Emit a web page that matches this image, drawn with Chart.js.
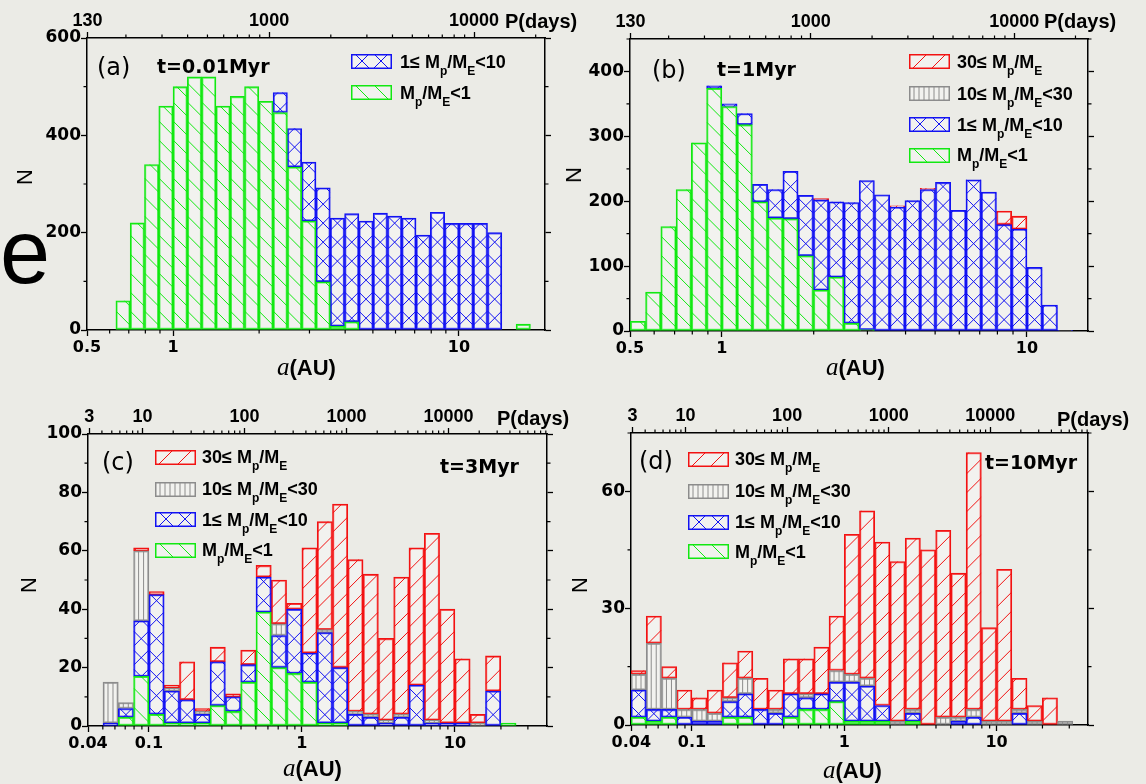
<!DOCTYPE html>
<html>
<head>
<meta charset="utf-8">
<script src="https://cdn.jsdelivr.net/npm/chart.js@4.4.1/dist/chart.umd.min.js"></script>
<style>
  body { margin: 0; width: 1146px; height: 784px; background: #ebebe6; position: relative; overflow: hidden; }
  canvas { position: absolute; }
  .txt { position: absolute; white-space: nowrap; color: #000; line-height: 1; transform: translateY(-50%); }
  .tag { font: 24px 'DejaVu Sans', sans-serif; }
  .time { font: bold 19px 'DejaVu Sans', sans-serif; }
  .leg { font: bold 18px 'Liberation Sans', Arial, sans-serif; }
  .leg sub { font-size: 12px; vertical-align: baseline; position: relative; top: 7px; }
  .per { font: bold 20px 'Liberation Sans', Arial, sans-serif; }
  .xt { font: bold 22px 'Liberation Sans', Arial, sans-serif; }
  .xt i { font: italic 25px 'Liberation Serif', serif; }
  .yt { font: 22px 'Liberation Sans', Arial, sans-serif; transform: translate(-50%, -50%) rotate(-90deg); }
  .big { position: absolute; font: 90px 'Liberation Sans', Arial, sans-serif; line-height: 90px; color: #000; }
</style>
</head>
<body>
<canvas id="pa" width="573" height="392" style="left:0;top:0"></canvas>
<canvas id="pb" width="573" height="392" style="left:573px;top:0"></canvas>
<canvas id="pc" width="573" height="392" style="left:0;top:392px"></canvas>
<canvas id="pd" width="573" height="392" style="left:573px;top:392px"></canvas>

<div class="big" style="left:0;top:207px">e</div>

<!-- (a) -->
<div class="txt tag" style="left:97px;top:67px">(a)</div>
<div class="txt time" style="left:157px;top:66px">t=0.01Myr</div>
<div class="txt leg" style="left:400px;top:62px">1≤ M<sub>p</sub>/M<sub>E</sub>&lt;10</div>
<div class="txt leg" style="left:400px;top:93px">M<sub>p</sub>/M<sub>E</sub>&lt;1</div>
<div class="txt per" style="left:505px;top:21px">P(days)</div>
<div class="txt xt" style="left:277px;top:367px"><i>a</i>(AU)</div>
<div class="txt yt" style="left:25px;top:177px">N</div>

<!-- (b) -->
<div class="txt tag" style="left:652px;top:70px">(b)</div>
<div class="txt time" style="left:717px;top:69px">t=1Myr</div>
<div class="txt leg" style="left:957px;top:62px">30≤ M<sub>p</sub>/M<sub>E</sub></div>
<div class="txt leg" style="left:957px;top:94px">10≤ M<sub>p</sub>/M<sub>E</sub>&lt;30</div>
<div class="txt leg" style="left:957px;top:125px">1≤ M<sub>p</sub>/M<sub>E</sub>&lt;10</div>
<div class="txt leg" style="left:957px;top:155px">M<sub>p</sub>/M<sub>E</sub>&lt;1</div>
<div class="txt per" style="left:1044px;top:21px">P(days)</div>
<div class="txt xt" style="left:826px;top:367px"><i>a</i>(AU)</div>
<div class="txt yt" style="left:574px;top:175px">N</div>

<!-- (c) -->
<div class="txt tag" style="left:102px;top:462px">(c)</div>
<div class="txt time" style="left:440px;top:466px">t=3Myr</div>
<div class="txt leg" style="left:202px;top:457px">30≤ M<sub>p</sub>/M<sub>E</sub></div>
<div class="txt leg" style="left:202px;top:489px">10≤ M<sub>p</sub>/M<sub>E</sub>&lt;30</div>
<div class="txt leg" style="left:202px;top:520px">1≤ M<sub>p</sub>/M<sub>E</sub>&lt;10</div>
<div class="txt leg" style="left:202px;top:550px">M<sub>p</sub>/M<sub>E</sub>&lt;1</div>
<div class="txt per" style="left:497px;top:418px">P(days)</div>
<div class="txt xt" style="left:283px;top:768px"><i>a</i>(AU)</div>
<div class="txt yt" style="left:29px;top:585px">N</div>

<!-- (d) -->
<div class="txt tag" style="left:639px;top:461px">(d)</div>
<div class="txt time" style="left:985px;top:462px">t=10Myr</div>
<div class="txt leg" style="left:735px;top:459px">30≤ M<sub>p</sub>/M<sub>E</sub></div>
<div class="txt leg" style="left:735px;top:491px">10≤ M<sub>p</sub>/M<sub>E</sub>&lt;30</div>
<div class="txt leg" style="left:735px;top:522px">1≤ M<sub>p</sub>/M<sub>E</sub>&lt;10</div>
<div class="txt leg" style="left:735px;top:552px">M<sub>p</sub>/M<sub>E</sub>&lt;1</div>
<div class="txt per" style="left:1057px;top:419px">P(days)</div>
<div class="txt xt" style="left:823px;top:770px"><i>a</i>(AU)</div>
<div class="txt yt" style="left:580px;top:585px">N</div>

<script>
// ---------- data: counts per bin of log10(a), stacked small -> mid -> giant -> large ----------

// (a) t=0.01Myr, bins 0.05 dex, first bin starts at log a = -0.2
const aBinStart = -0.2;
const aBinWidth = 0.05;
const aSmall = [60, 220, 340, 460, 500, 520, 520, 460, 480, 500, 470, 447, 335, 224, 99, 8, 17, 0, 0, 0, 0, 0, 0, 0, 0, 0, 0, 0, 12];
const aMid   = [0, 0, 0, 0, 0, 0, 0, 0, 0, 0, 0, 41, 79, 121, 193, 222, 222, 224, 240, 234, 230, 195, 242, 219, 219, 219, 200, 0, 0];

// (b) t=1Myr, bins 0.05 dex, first bin starts at log a = -0.3
const bBinStart = -0.3;
const bBinWidth = 0.05;
const bSmall = [15, 60, 161, 218, 290, 374, 346, 318, 199, 174, 173, 116, 63, 83, 12, 2, 0, 0, 0, 0, 0, 0, 0, 0, 0, 0, 0, 0, 0];
const bMid   = [0, 0, 0, 0, 0, 4, 4, 17, 27, 44, 73, 93, 139, 116, 186, 230, 210, 191, 201, 218, 229, 186, 233, 214, 164, 157, 98, 40, 1];
const bLarge = [0, 0, 0, 0, 0, 0, 0, 0, 0, 0, 0, 0, 2, 0, 0, 0, 0, 2, 0, 2, 0, 0, 0, 0, 21, 20, 0, 0, 0];

// (c) t=3Myr, bins 0.1 dex, first bin starts at log a = -1.3
const cBinStart = -1.3;
const cBinWidth = 0.1;
const cSmall = [0, 3, 17, 4, 1, 1, 1, 7, 5, 15, 39, 20, 18, 15, 1, 1, 0, 0, 0, 0, 0, 0, 0, 0, 0, 0, 1];
const cMid   = [1, 3, 19, 41, 11, 8, 3, 15, 5, 6, 12, 11, 22, 10, 31, 19, 4, 3, 1, 3, 14, 1, 1, 1, 0, 12, 0];
const cGiant = [14, 2, 24, 0, 1, 0, 1, 0, 0, 0, 0, 4, 0, 0, 1, 0, 1, 1, 1, 1, 0, 1, 0, 0, 1, 0, 0];
const cLarge = [0, 0, 1, 1, 1, 13, 1, 5, 1, 5, 4, 15, 2, 36, 37, 56, 52, 48, 28, 47, 47, 64, 39, 22, 3, 12, 0];

// (d) t=10Myr, bins 0.1 dex, first bin starts at log a = -1.4
const dBinStart = -1.4;
const dBinWidth = 0.1;
const dSmall = [2, 1, 2, 0, 0, 0, 2, 2, 0, 0, 2, 4, 4, 6, 1, 1, 1, 0, 1, 0, 0, 0, 0, 0, 0, 0, 0, 0, 0];
const dMid   = [7, 3, 2, 2, 1, 1, 4, 6, 4, 3, 6, 3, 4, 5, 10, 9, 4, 0, 2, 0, 0, 1, 2, 0, 0, 3, 0, 0, 0];
const dGiant = [4, 17, 8, 2, 3, 2, 1, 4, 0, 1, 0, 1, 0, 3, 2, 2, 0, 1, 1, 0, 2, 1, 2, 1, 1, 1, 1, 0, 1];
const dLarge = [1, 7, 3, 5, 3, 6, 9, 7, 8, 5, 9, 9, 12, 14, 36, 43, 42, 41, 44, 45, 48, 37, 66, 24, 39, 8, 4, 7, 0];

// tick labels
const aXTicks = ['0.5', '1', '10'];
const bXTicks = ['0.5', '1', '10'];
const cXTicks = ['0.04', '0.1', '1', '10'];
const dXTicks = ['0.04', '0.1', '1', '10'];
const abPTicks = ['130', '1000', '10000'];
const cdPTicks = ['3', '10', '100', '1000', '10000'];

// ---------- styles ----------
const STYLE = {
    small: { color: '#12e812', hatch: 'back' },
    mid:   { color: '#1212f2', hatch: 'cross' },
    giant: { color: '#8c8c8c', hatch: 'vert' },
    large: { color: '#f21212', hatch: 'fwd' }
};
const BAR_FILL = 'rgba(255,255,255,0.35)';
const HATCH_STEP = 19;
const log10 = Math.log10;
const keplerLogA = P => (2 / 3) * log10(P / 365.25);

// --- Helpers ---

function traceHatch(ctx, kind, l, r, t, b, y0) {
    const w = r - l;
    if (kind === 'vert') {
        for (let x = l + 5; x < r - 1; x += 5) {
            ctx.moveTo(x, t);
            ctx.lineTo(x, b);
        }
        return;
    }
    if (kind === 'back' || kind === 'cross') {
        const k0 = Math.floor((t - w - y0) / HATCH_STEP) - 1;
        const k1 = Math.ceil((b - y0) / HATCH_STEP) + 1;
        for (let k = k0; k <= k1; k++) {
            const c = y0 + k * HATCH_STEP;
            ctx.moveTo(l, c);
            ctx.lineTo(r, c + w);
        }
    }
    if (kind === 'fwd' || kind === 'cross') {
        const k0 = Math.floor((t - y0 - w) / HATCH_STEP) - 1;
        const k1 = Math.ceil((b + w - y0) / HATCH_STEP) + 1;
        for (let k = k0; k <= k1; k++) {
            const c = y0 + w + k * HATCH_STEP;
            ctx.moveTo(l, c);
            ctx.lineTo(r, c - w);
        }
    }
}

function logMinors(min, max, skip) {
    const out = [];
    for (let k = -3; k <= 5; k++) {
        for (let m = 2; m <= 9; m++) {
            const v = log10(m * Math.pow(10, k));
            if (v > min + 1e-6 && v < max - 1e-6 && !skip.some(s => Math.abs(s - v) < 1e-6)) out.push(v);
        }
    }
    return out;
}

function makePanel(p) {
    const cvs = document.getElementById(p.id);
    const W = cvs.width, H = cvs.height;
    const box = p.box; // plot area inside the canvas

    const datasets = p.series.map(s => ({
        data: s.values.map((v, i) => ({ x: p.binStart + (i + 0.5) * p.binWidth, y: v > 0 ? v : null })),
        backgroundColor: BAR_FILL,
        borderColor: STYLE[s.kind].color,
        borderWidth: 1.4,
        borderSkipped: false,
        barPercentage: 1,
        categoryPercentage: 1,
        hatch: STYLE[s.kind].hatch
    }));

    const xMajor = p.xTicks.map(t => log10(parseFloat(t)));
    const topPos = P => p.xMin + (keplerLogA(P) - p.xMin) * (p.pStretch || 1);
    const pMajor = p.pTicks.map(t => topPos(parseFloat(t)));
    const pMinor = [];
    for (let k = 0; k <= 5; k++) {
        for (let m = 2; m <= 9; m++) {
            const P = m * Math.pow(10, k);
            const v = topPos(P);
            if (v > p.xMin + 1e-6 && v < p.xMax - 1e-6 && !p.pTicks.includes(String(P))) pMinor.push(v);
        }
    }
    const xMinor = logMinors(p.xMin, p.xMax, xMajor);
    const yMajor = [], yMinor = [];
    for (let v = 0; v <= p.yMax + 1e-9; v += p.yMinorStep) {
        if (Math.abs(v / p.yMajorStep - Math.round(v / p.yMajorStep)) < 1e-9) yMajor.push(v);
        else yMinor.push(v);
    }

    const axisCommon = {
        grid: { drawOnChartArea: false, tickLength: 6, color: '#000', tickWidth: 1.3, offset: false },
        border: { color: '#000', width: 1.5 }
    };
    const tickFontX = { family: 'DejaVu Sans', size: 16, weight: 'bold' };
    const tickFontY = { family: 'DejaVu Sans', size: 17, weight: 'bold' };
    const tickFontP = { family: 'Liberation Sans', size: 18, weight: 'bold' };

    // hachures dessinées par-dessus chaque barre
    const hatchPlugin = {
        id: 'hatch',
        afterDatasetsDraw(chart) {
            const ctx = chart.ctx;
            const y0 = chart.chartArea.bottom;
            chart.data.datasets.forEach((ds, i) => {
                const meta = chart.getDatasetMeta(i);
                meta.data.forEach((bar, j) => {
                    if (ds.data[j].y === null) return;
                    const { x, y, base, width } = bar.getProps(['x', 'y', 'base', 'width'], true);
                    const l = x - width / 2, r = x + width / 2;
                    const t = Math.min(y, base), b = Math.max(y, base);
                    ctx.save();
                    ctx.beginPath();
                    ctx.rect(l, t, r - l, b - t);
                    ctx.clip();
                    ctx.beginPath();
                    traceHatch(ctx, ds.hatch, l, r, t, b, y0);
                    ctx.strokeStyle = ds.borderColor;
                    ctx.lineWidth = 1;
                    ctx.stroke();
                    ctx.restore();
                });
            });
        }
    };

    // petites graduations + cases de légende
    const decorPlugin = {
        id: 'decor',
        afterDraw(chart) {
            const ctx = chart.ctx;
            const a = chart.chartArea;
            const sx = chart.scales.x, sy = chart.scales.y;
            ctx.save();
            ctx.strokeStyle = '#000';
            ctx.lineWidth = 1.2;
            ctx.beginPath();
            xMinor.forEach(v => {
                const px = sx.getPixelForValue(v);
                ctx.moveTo(px, a.bottom); ctx.lineTo(px, a.bottom + 3.5);
            });
            pMinor.forEach(v => {
                const px = sx.getPixelForValue(v);
                ctx.moveTo(px, a.top); ctx.lineTo(px, a.top - 3.5);
            });
            yMinor.forEach(v => {
                const py = sy.getPixelForValue(v);
                ctx.moveTo(a.left, py); ctx.lineTo(a.left - 3.5, py);
                ctx.moveTo(a.right, py); ctx.lineTo(a.right + 3.5, py);
            });
            ctx.stroke();

            p.legend.forEach(item => {
                const st = STYLE[item.kind];
                const l = item.x - p.left, t = item.y - p.top, w = 41, h = 15;
                ctx.fillStyle = BAR_FILL;
                ctx.fillRect(l, t, w, h);
                ctx.save();
                ctx.beginPath();
                ctx.rect(l, t, w, h);
                ctx.clip();
                ctx.beginPath();
                traceHatch(ctx, st.hatch, l, l + w, t, t + h, t + h);
                ctx.strokeStyle = st.color;
                ctx.lineWidth = 1;
                ctx.stroke();
                ctx.restore();
                ctx.strokeStyle = st.color;
                ctx.lineWidth = 1.5;
                ctx.strokeRect(l + 0.75, t + 0.75, w - 1.5, h - 1.5);
            });
            ctx.restore();
        }
    };

    return new Chart(cvs, {
        type: 'bar',
        data: { datasets },
        plugins: [hatchPlugin, decorPlugin],
        options: {
            responsive: false,
            animation: false,
            events: [],
            layout: { padding: 0 },
            plugins: { legend: { display: false }, tooltip: { enabled: false } },
            scales: {
                x: {
                    type: 'linear', position: 'bottom', min: p.xMin, max: p.xMax,
                    stacked: true, offset: false,
                    afterBuildTicks: s => { s.ticks = xMajor.map((v, i) => ({ value: v, txt: p.xTicks[i] })); },
                    ticks: { autoSkip: false, maxRotation: 0, padding: 2, color: '#000', font: tickFontX,
                        callback: (v, i, t) => t[i].txt },
                    afterFit: s => { s.height = H - box.bottom; },
                    ...axisCommon
                },
                x2: {
                    type: 'linear', position: 'top', min: p.xMin, max: p.xMax, offset: false,
                    afterBuildTicks: s => { s.ticks = pMajor.map((v, i) => ({ value: v, txt: p.pTicks[i] })); },
                    ticks: { autoSkip: false, maxRotation: 0, padding: 0, color: '#000', font: tickFontP,
                        callback: (v, i, t) => t[i].txt },
                    afterFit: s => { s.height = box.top; },
                    ...axisCommon
                },
                y: {
                    type: 'linear', position: 'left', min: 0, max: p.yMax, stacked: true,
                    afterBuildTicks: s => { s.ticks = yMajor.map(v => ({ value: v })); },
                    ticks: { padding: 0, color: '#000', font: tickFontY, callback: v => String(v) },
                    afterFit: s => { s.width = box.left; },
                    ...axisCommon
                },
                y2: {
                    type: 'linear', position: 'right', min: 0, max: p.yMax,
                    afterBuildTicks: s => { s.ticks = yMajor.map(v => ({ value: v })); },
                    ticks: { padding: 0, callback: () => '' },
                    afterFit: s => { s.width = W - box.right; },
                    ...axisCommon
                }
            }
        }
    });
}

// ---------- panels ----------

makePanel({
    id: 'pa', left: 0, top: 0,
    box: { left: 87, top: 38, right: 545, bottom: 330 },
    xMin: log10(0.5), xMax: log10(20), pStretch: 1.075,
    yMax: 600, yMajorStep: 200, yMinorStep: 100,
    binStart: aBinStart, binWidth: aBinWidth,
    xTicks: aXTicks, pTicks: abPTicks,
    series: [{ kind: 'small', values: aSmall }, { kind: 'mid', values: aMid }],
    legend: [{ kind: 'mid', x: 351, y: 54 }, { kind: 'small', x: 351, y: 85 }]
});

makePanel({
    id: 'pb', left: 573, top: 0,
    box: { left: 57, top: 39, right: 515, bottom: 331 },
    xMin: log10(0.5), xMax: 1.2,
    yMax: 450, yMajorStep: 100, yMinorStep: 50,
    binStart: bBinStart, binWidth: bBinWidth,
    xTicks: bXTicks, pTicks: abPTicks,
    series: [{ kind: 'small', values: bSmall }, { kind: 'mid', values: bMid }, { kind: 'large', values: bLarge }],
    legend: [{ kind: 'large', x: 909, y: 54 }, { kind: 'giant', x: 909, y: 86 },
             { kind: 'mid', x: 909, y: 117 }, { kind: 'small', x: 909, y: 148 }]
});

makePanel({
    id: 'pc', left: 0, top: 392,
    box: { left: 88, top: 42, right: 547, bottom: 334 },
    xMin: log10(0.04), xMax: log10(40),
    yMax: 100, yMajorStep: 20, yMinorStep: 10,
    binStart: cBinStart, binWidth: cBinWidth,
    xTicks: cXTicks, pTicks: cdPTicks,
    series: [{ kind: 'small', values: cSmall }, { kind: 'mid', values: cMid },
             { kind: 'giant', values: cGiant }, { kind: 'large', values: cLarge }],
    legend: [{ kind: 'large', x: 155, y: 450 }, { kind: 'giant', x: 155, y: 482 },
             { kind: 'mid', x: 155, y: 512 }, { kind: 'small', x: 155, y: 543 }]
});

makePanel({
    id: 'pd', left: 573, top: 392,
    box: { left: 58, top: 41, right: 515, bottom: 333 },
    xMin: -1.4, xMax: 1.6,
    yMax: 75, yMajorStep: 30, yMinorStep: 15,
    binStart: dBinStart, binWidth: dBinWidth,
    xTicks: dXTicks, pTicks: cdPTicks,
    series: [{ kind: 'small', values: dSmall }, { kind: 'mid', values: dMid },
             { kind: 'giant', values: dGiant }, { kind: 'large', values: dLarge }],
    legend: [{ kind: 'large', x: 688, y: 452 }, { kind: 'giant', x: 688, y: 484 },
             { kind: 'mid', x: 688, y: 515 }, { kind: 'small', x: 688, y: 544 }]
});
</script>
</body>
</html>
